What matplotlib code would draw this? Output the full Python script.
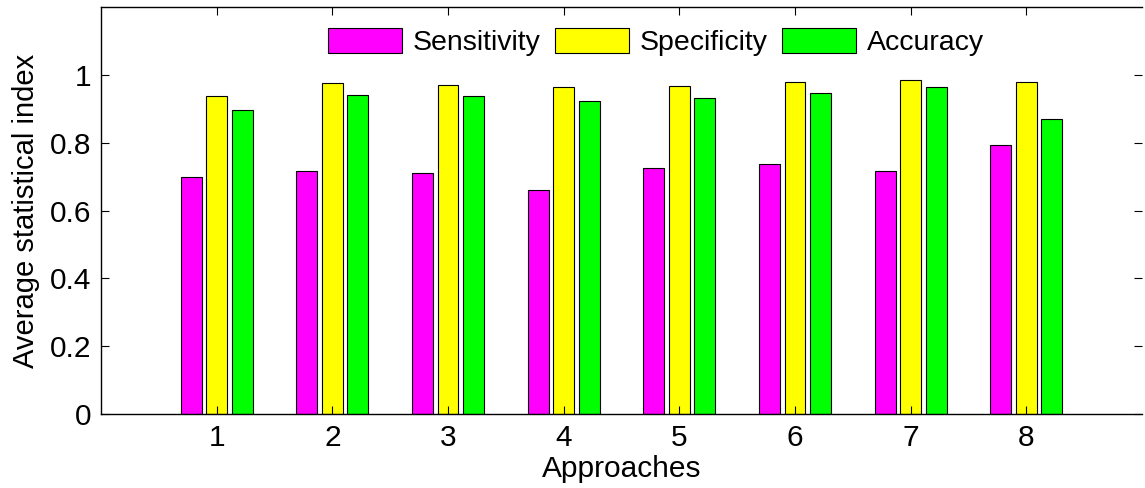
import matplotlib
matplotlib.use("Agg")
import matplotlib.pyplot as plt
import numpy as np
from matplotlib.ticker import FuncFormatter

plt.rcParams['font.family'] = ['Liberation Sans', 'DejaVu Sans']

approaches = [1, 2, 3, 4, 5, 6, 7, 8]
sensitivity = [0.698, 0.716, 0.711, 0.659, 0.724, 0.737, 0.716, 0.793]
specificity = [0.938, 0.976, 0.971, 0.963, 0.968, 0.980, 0.984, 0.980]
accuracy = [0.897, 0.941, 0.937, 0.924, 0.932, 0.945, 0.963, 0.871]
series_names = ['Sensitivity', 'Specificity', 'Accuracy']
colors = ['#FF00FF', '#FFFF00', '#00FF00']

fig = plt.figure(figsize=(11.45, 4.88), dpi=100)
ax = fig.add_axes([101/1145, 1 - 414/488, (1142 - 101)/1145, (414 - 7)/488])

x = np.array(approaches, dtype=float)
w = 0.18
offs = [-0.22, 0.0, 0.22]
for vals, name, c, o in zip([sensitivity, specificity, accuracy], series_names, colors, offs):
    ax.bar(x + o, vals, width=w, color=c, edgecolor='black', linewidth=0.8, label=name)

ax.set_xlim(0, 9)
ax.set_ylim(0, 1.2)
ax.set_xticks(approaches)
ax.set_yticks([0, 0.2, 0.4, 0.6, 0.8, 1.0])
ax.yaxis.set_major_formatter(FuncFormatter(lambda v, p: ('%g' % round(v, 2))))
ax.tick_params(direction='in', length=6, width=0.8, labelsize=21.5, top=True, right=True, pad=7)
ax.spines['right'].set_visible(False)
for s in ['left', 'bottom', 'top']:
    ax.spines[s].set_linewidth(1.0)

ax.set_xlabel('Approaches', fontsize=21.5, labelpad=2.5)
ax.set_ylabel('Average statistical index', fontsize=21, labelpad=7)

leg = ax.legend(loc='center', bbox_to_anchor=((656 - 101)/1041, 1 - (42 - 7)/407), ncol=3,
                frameon=False, fontsize=20.5, handlelength=2.6, handleheight=0.98,
                handletextpad=0.35, columnspacing=0.53, borderpad=0.2)

fig.savefig('out.png', dpi=100)
